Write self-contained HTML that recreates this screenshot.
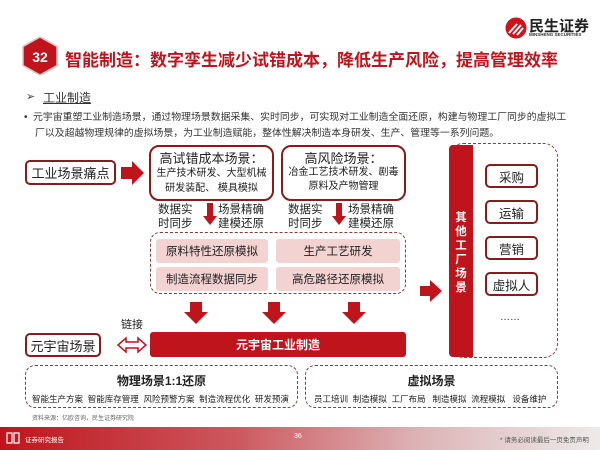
<!DOCTYPE html>
<html><head><meta charset="utf-8"><style>
*{margin:0;padding:0;box-sizing:border-box}
body{width:600px;height:450px;position:relative;background:#fff;font-family:"Liberation Sans","Noto Sans CJK SC",sans-serif;overflow:hidden;color:#222}
.a{position:absolute}
.box{position:absolute;border:2px solid #8b1a1a;border-radius:5px;display:flex;align-items:center;justify-content:center;background:#fff}
.dash{position:absolute;border:1.5px dashed #8b3a3a;border-radius:10px}
.pink{position:absolute;background:#f3d2d2;border-radius:3px;display:flex;align-items:center;justify-content:center;font-size:11.5px;color:#222}
.c{text-align:center}
</style></head><body>
<svg class="a" style="left:505px;top:17px" width="22" height="22" viewBox="0 0 22 22"><circle cx="11" cy="11" r="10.5" fill="#d0121b"/><path d="M4 16 L12 7 M8 17 L16 8 M12 18 L18 11" stroke="#fff" stroke-width="2"/></svg>
<div class="a" style="left:529px;top:15px;font-size:15px;font-weight:bold;color:#222">民生证券</div>
<div class="a" style="left:529px;top:32px;font-size:4.5px;font-weight:bold;color:#333">MINSHENG SECURITIES</div>
<svg class="a" style="left:22px;top:36px" width="36" height="40" viewBox="0 0 36 40"><polygon points="18,1 35,10.5 35,29.5 18,39 1,29.5 1,10.5" fill="#c0141c" stroke="#e8c0c0" stroke-width="1.5"/><text x="18" y="26" font-size="14" font-weight="bold" fill="#fff" text-anchor="middle" font-family="Liberation Sans">32</text></svg>
<div class="a" style="left:65px;top:46px;font-size:17px;font-weight:bold;color:#c0141c;white-space:nowrap">智能制造：数字孪生减少试错成本，降低生产风险，提高管理效率</div>
<div class="a" style="left:26px;top:90px;font-size:11px;color:#444">➢</div>
<div class="a" style="left:43px;top:89px;font-size:12px;color:#333;text-decoration:underline">工业制造</div>
<div class="a" style="left:24px;top:110px;font-size:9.9px;line-height:16px;color:#333;width:570px;white-space:nowrap">•&nbsp; 元宇宙重塑工业制造场景，通过物理场景数据采集、实时同步，可实现对工业制造全面还原，构建与物理工厂同步的虚拟工<br>&nbsp;&nbsp;&nbsp;&nbsp;厂以及超越物理规律的虚拟场景，为工业制造赋能，整体性解决制造本身研发、生产、管理等一系列问题。</div>

<div class="box" style="left:25px;top:160px;width:91px;height:25px;font-size:13px">工业场景痛点</div>
<svg class="a" style="left:121px;top:161px" width="24" height="24"><polygon points="0,6 11,6 11,0 23,12 11,24 11,18 0,18" fill="#c0141c"/></svg>
<div class="box" style="left:149px;top:145px;width:125px;height:56px;border-radius:10px;flex-direction:column;line-height:15px">
<div style="font-size:13px">高试错成本场景：</div><div style="font-size:10px">生产技术研发、大型机械</div><div style="font-size:10px">研发装配、 模具模拟</div></div>
<div class="box" style="left:281px;top:145px;width:125px;height:56px;border-radius:10px;flex-direction:column;justify-content:flex-start;padding-top:5px;line-height:14px">
<div style="font-size:13px">高风险场景：</div><div style="font-size:10px">冶金工艺技术研发、剧毒</div><div style="font-size:10px">原料及产物管理</div></div>
<div class="a c" style="left:158px;top:203px;font-size:11.5px;line-height:14px">数据实<br>时同步</div>
<div class="a c" style="left:218px;top:203px;font-size:11.5px;line-height:14px">场景精确<br>建模还原</div>
<div class="a c" style="left:288px;top:203px;font-size:11.5px;line-height:14px">数据实<br>时同步</div>
<div class="a c" style="left:348px;top:203px;font-size:11.5px;line-height:14px">场景精确<br>建模还原</div>
<svg class="a" style="left:203px;top:203px" width="14" height="22"><polygon points="4,0 10,0 10,13 14,13 7,22 0,13 4,13" fill="#c0141c"/></svg>
<svg class="a" style="left:332px;top:203px" width="14" height="22"><polygon points="4,0 10,0 10,13 14,13 7,22 0,13 4,13" fill="#c0141c"/></svg>
<div class="dash" style="left:150px;top:232px;width:256px;height:62px"></div>
<div class="pink" style="left:156px;top:239px;width:112px;height:24px">原料特性还原模拟</div>
<div class="pink" style="left:276px;top:239px;width:124px;height:24px">生产工艺研发</div>
<div class="pink" style="left:156px;top:267px;width:112px;height:24px">制造流程数据同步</div>
<div class="pink" style="left:276px;top:267px;width:124px;height:24px">高危路径还原模拟</div>
<svg class="a" style="left:184px;top:302px" width="24" height="22"><polygon points="6,0 18,0 18,10 24,10 12,22 0,10 6,10" fill="#c0141c"/></svg>
<svg class="a" style="left:262px;top:302px" width="24" height="22"><polygon points="6,0 18,0 18,10 24,10 12,22 0,10 6,10" fill="#c0141c"/></svg>
<svg class="a" style="left:342px;top:302px" width="24" height="22"><polygon points="6,0 18,0 18,10 24,10 12,22 0,10 6,10" fill="#c0141c"/></svg>
<div class="a" style="left:150px;top:332px;width:256px;height:25px;background:#c0141c;border-radius:3px;color:#fff;font-weight:bold;font-size:12px;display:flex;align-items:center;justify-content:center">元宇宙工业制造</div>
<div class="box" style="left:25px;top:333px;width:76px;height:24px;font-size:13px">元宇宙场景</div>
<div class="a" style="left:121px;top:316px;font-size:11px">链接</div>
<svg class="a" style="left:117px;top:336px" width="30" height="18"><polygon points="1,9 9,2 9,6 21,6 21,2 29,9 21,16 21,12 9,12 9,16" fill="#fff" stroke="#c0141c" stroke-width="1.5"/></svg>
<svg class="a" style="left:420px;top:280px" width="22" height="22"><polygon points="0,6 10,6 10,0 22,11 10,22 10,16 0,16" fill="#c0141c"/></svg>
<div class="dash" style="left:449px;top:143px;width:109px;height:215px;border-radius:14px"></div>
<div class="a" style="left:449px;top:145px;width:24px;height:212px;background:#c0141c;border-radius:4px 0 0 4px;color:#fff;font-weight:bold;font-size:11.5px;line-height:14px;text-align:center;padding-top:66px">其<br>他<br>工<br>厂<br>场<br>景</div>
<div class="box" style="left:485px;top:164px;width:53px;height:24px;font-size:12.5px">采购</div>
<div class="box" style="left:485px;top:200px;width:53px;height:24px;font-size:12.5px">运输</div>
<div class="box" style="left:485px;top:236px;width:53px;height:24px;font-size:12.5px">营销</div>
<div class="box" style="left:485px;top:272px;width:53px;height:24px;font-size:12.5px">虚拟人</div>
<div class="a" style="left:500px;top:312px;font-size:10px">……</div>
<div class="dash" style="left:25px;top:365px;width:273px;height:43px"></div>
<div class="dash" style="left:305px;top:365px;width:253px;height:43px"></div>
<div class="a c" style="left:25px;top:372px;width:273px;font-size:12px;font-weight:bold">物理场景1:1还原</div>
<div class="a c" style="left:305px;top:372px;width:253px;font-size:12px;font-weight:bold">虚拟场景</div>
<div class="a" style="left:32px;top:393px;font-size:8.5px;white-space:nowrap">智能生产方案&nbsp; 智能库存管理&nbsp; 风险预警方案&nbsp; 制造流程优化&nbsp; 研发预演</div>
<div class="a" style="left:314px;top:393px;font-size:8.5px;white-space:nowrap">员工培训&nbsp; 制造模拟&nbsp; 工厂布局&nbsp;&nbsp; 制造模拟&nbsp; 流程模拟&nbsp;&nbsp; 设备维护</div>
<div class="a" style="left:32px;top:413px;font-size:6px;color:#666">资料来源：亿欧咨询，民生证券研究院</div>
<div class="a" style="left:0;top:427px;width:600px;height:23px;background:linear-gradient(90deg,#c0141c 0%,#cc5a60 40%,#dcb4b6 70%,#eeeaea 100%)"></div>
<svg class="a" style="left:6px;top:432px" width="14" height="12"><path d="M1 1h5v10H1zM8 1h5v10H8z" fill="none" stroke="#fff" stroke-width="1.2"/></svg>
<div class="a" style="left:25px;top:434px;font-size:6.5px;color:#fff">证券研究报告</div>
<div class="a" style="left:294px;top:433px;font-size:7px;color:#fff">36</div>
<div class="a" style="left:500px;top:434px;font-size:6.5px;color:#555">* 请务必阅读最后一页免责声明</div>
</body></html>
